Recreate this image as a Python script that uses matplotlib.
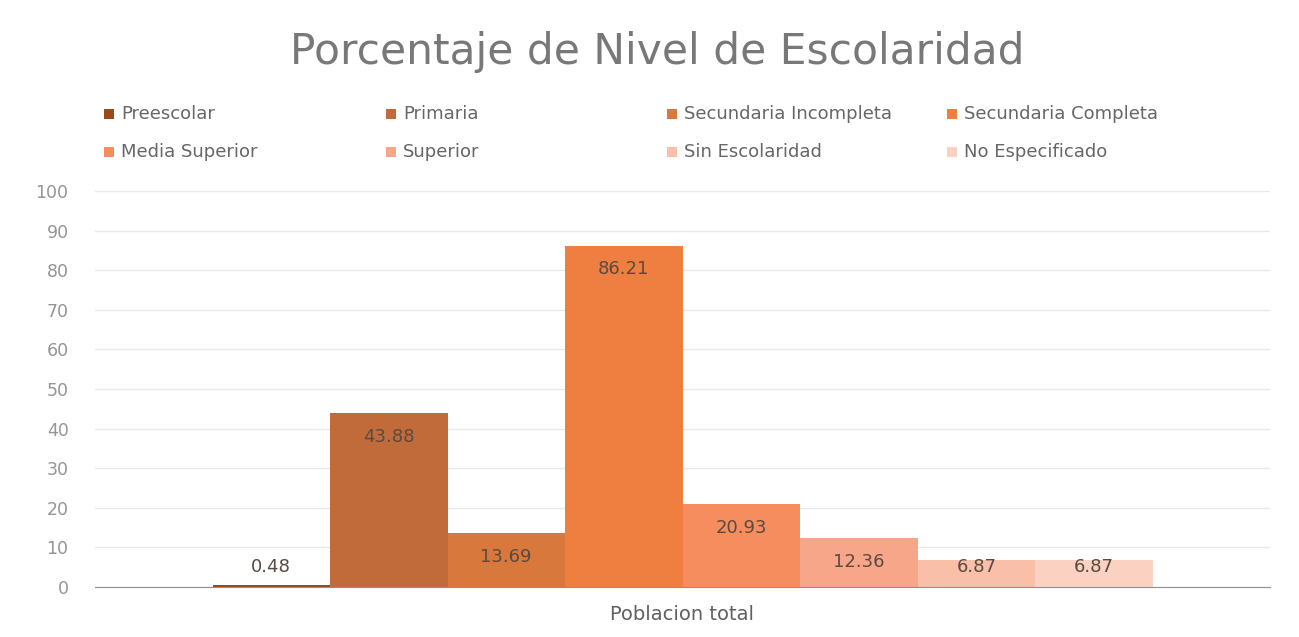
import matplotlib
matplotlib.use("Agg")
import matplotlib.pyplot as plt
from matplotlib.patches import Rectangle

plt.rcParams['font.family'] = ['DejaVu Sans']

# Data
category = "Poblacion total"
series_names = ["Preescolar", "Primaria", "Secundaria Incompleta", "Secundaria Completa",
                "Media Superior", "Superior", "Sin Escolaridad", "No Especificado"]
values = [0.48, 43.88, 13.69, 86.21, 20.93, 12.36, 6.87, 6.87]
colors = ["#9C4A1C", "#C26B3A", "#D8783C", "#EE7F40",
          "#F58D5E", "#F7A68A", "#F9BFA8", "#FBD2C2"]
yticks = [0, 10, 20, 30, 40, 50, 60, 70, 80, 90, 100]

W, H = 1299, 637
fig = plt.figure(figsize=(W / 100, H / 100), dpi=100)
ax = fig.add_axes([95/W, 50/H, (1270-95)/W, (587-191)/H])

n = len(values)
w = 0.8 / n
for i, (v, c) in enumerate(zip(values, colors)):
    x = (i - (n - 1) / 2) * w
    ax.bar(x, v, width=w, color=c, edgecolor='none', zorder=3)
    ax.text(x, max(v - 6, 5.1), f"{v:.2f}", ha='center', va='center', fontsize=13,
            color='#5a4a40', zorder=4)

ax.set_xlim(-0.5, 0.5)
ax.set_ylim(0, 100)
ax.set_yticks(yticks)
ax.set_yticklabels([str(t) for t in yticks], fontsize=12.5, color='#959595')
ax.set_xticks([0])
ax.set_xticklabels([category], fontsize=14, color='#606060')
ax.tick_params(axis='both', length=0)
ax.tick_params(axis='y', pad=19)
ax.tick_params(axis='x', pad=13)
ax.grid(axis='y', color='#E9E9E9', linewidth=1, zorder=0)
for s in ['top', 'right', 'left']:
    ax.spines[s].set_visible(False)
ax.spines['bottom'].set_color('#909090')
ax.spines['bottom'].set_zorder(5)

fig.text(657/W, 1 - 52/H, "Porcentaje de Nivel de Escolaridad", ha='center', va='center',
         fontsize=30.5, color='#787878')

# Legend laid out row by row, as in the reference
col_x = [104, 386, 667, 947]
row_y = [114, 152]
sq = 10
for k, (name, c) in enumerate(zip(series_names, colors)):
    r, col = divmod(k, 4)
    x0, y0 = col_x[col], row_y[r]
    fig.patches.append(Rectangle((x0/W, (H - y0 - sq/2)/H), sq/W, sq/H,
                                 transform=fig.transFigure, facecolor=c, edgecolor='none'))
    fig.text((x0 + sq + 7)/W, 1 - y0/H, name, ha='left', va='center',
             fontsize=13, color='#666666')

fig.savefig("out.png", dpi=100, facecolor='white')
